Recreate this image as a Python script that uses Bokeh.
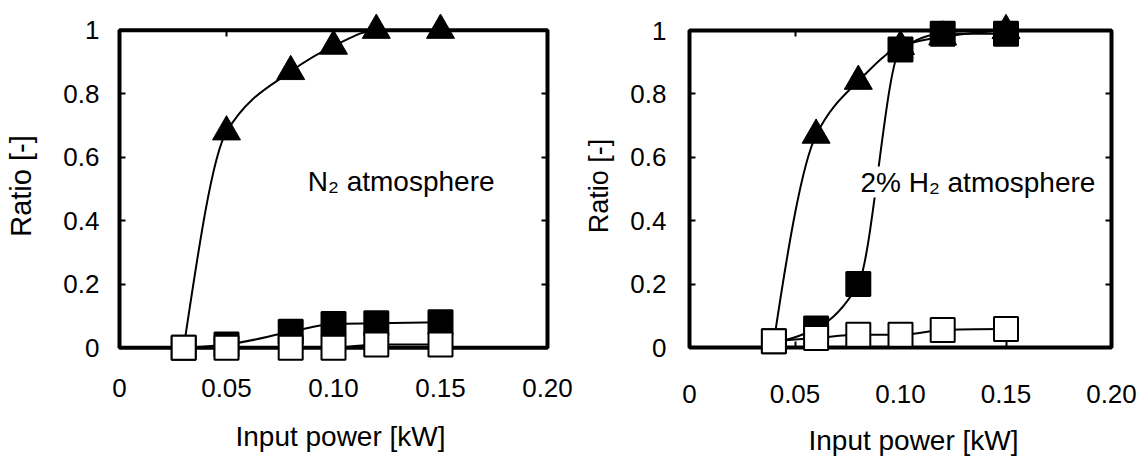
import numpy as np
from bokeh.plotting import figure
from bokeh.models import Range1d, FixedTicker, LinearAxis, Label, ColumnDataSource
from bokeh.layouts import row
from bokeh.embed import file_html
from bokeh.resources import INLINE

# ---------------- data ----------------
x_ticks = [0, 0.05, 0.10, 0.15, 0.20]
x_tick_labels = ["0", "0.05", "0.10", "0.15", "0.20"]
y_ticks = [0, 0.2, 0.4, 0.6, 0.8, 1.0]
y_tick_labels = ["0", "0.2", "0.4", "0.6", "0.8", "1"]

n2_power = [0.03, 0.05, 0.08, 0.10, 0.12, 0.15]
n2_triangle = [0.0, 0.68, 0.87, 0.95, 1.0, 1.0]
n2_black = [0.0, 0.01, 0.05, 0.075, 0.077, 0.08]
n2_white = [0.0, 0.0, 0.0, 0.0, 0.01, 0.01]

h2_power = [0.04, 0.06, 0.08, 0.10, 0.12, 0.15]
h2_triangle = [0.02, 0.67, 0.84, 0.95, 0.98, 1.0]
h2_black = [0.02, 0.06, 0.20, 0.94, 0.99, 0.99]
h2_white = [0.02, 0.03, 0.04, 0.04, 0.055, 0.058]

x_title = "Input power [kW]"
y_title = "Ratio [-]"
FONT = "Liberation Sans"


def smooth_segments(x, y):
    """Monotone cubic (PCHIP) segments expressed as Bezier control points."""
    x = np.asarray(x, float)
    y = np.asarray(y, float)
    h = np.diff(x)
    s = np.diff(y) / h
    n = len(x)
    d = np.zeros(n)
    for k in range(1, n - 1):
        if s[k - 1] * s[k] <= 0:
            d[k] = 0.0
        else:
            w1 = 2 * h[k] + h[k - 1]
            w2 = h[k] + 2 * h[k - 1]
            d[k] = (w1 + w2) / (w1 / s[k - 1] + w2 / s[k])

    def end(h0, h1, s0, s1):
        dd = ((2 * h0 + h1) * s0 - h0 * s1) / (h0 + h1)
        if np.sign(dd) != np.sign(s0):
            dd = 0.0
        elif np.sign(s0) != np.sign(s1) and abs(dd) > 3 * abs(s0):
            dd = 3 * s0
        return dd

    d[0] = end(h[0], h[1], s[0], s[1])
    d[-1] = end(h[-1], h[-2], s[-1], s[-2])
    return ColumnDataSource(dict(
        x0=x[:-1], y0=y[:-1], x1=x[1:], y1=y[1:],
        cx0=x[:-1] + h / 3, cy0=y[:-1] + d[:-1] * h / 3,
        cx1=x[1:] - h / 3, cy1=y[1:] - d[1:] * h / 3,
    ))


def make_fig(width, box_w, box_h, pads, borders, ytitle_size,
             ylab_standoff, ytitle_standoff, xlab_standoff, xtitle_standoff):
    # the data box (0..0.2, 0..1) is drawn as a glyph; the frame is padded (pixels)
    # so that markers sitting on the box edges are not clipped
    x0, x1 = x_ticks[0], x_ticks[-1]
    y0, y1 = y_ticks[0], y_ticks[-1]
    pl, pr, pt, pb = pads
    bl, br, bt, bb = borders
    sx = (x1 - x0) / box_w
    sy = (y1 - y0) / box_h
    p = figure(width=width, height=459,
               x_range=Range1d(x0 - pl * sx, x1 + pr * sx),
               y_range=Range1d(y0 - pb * sy, y1 + pt * sy),
               output_backend="svg", toolbar_location=None,
               min_border_left=bl, min_border_right=br,
               min_border_top=bt, min_border_bottom=bb)
    p.grid.visible = False
    p.outline_line_color = None
    p.background_fill_color = "white"
    p.border_fill_color = "white"

    for ax in p.xaxis:
        ax.ticker = FixedTicker(ticks=x_ticks)
        ax.major_label_overrides = {t: l for t, l in zip(x_ticks, x_tick_labels)}
        ax.major_label_standoff = xlab_standoff
        ax.axis_label = x_title
        ax.axis_label_text_font_size = "28px"
        ax.axis_label_standoff = xtitle_standoff
    for ax in p.yaxis:
        ax.ticker = FixedTicker(ticks=y_ticks)
        ax.major_label_overrides = {t: l for t, l in zip(y_ticks, y_tick_labels)}
        ax.axis_label = y_title
        ax.axis_label_text_font_size = ytitle_size
        ax.axis_label_standoff = ytitle_standoff
        ax.major_label_standoff = ylab_standoff
    for ax in list(p.xaxis) + list(p.yaxis):
        ax.axis_label_text_font = FONT
        ax.axis_label_text_font_style = "normal"
        ax.axis_label_text_color = "black"
        ax.axis_line_color = None
        ax.major_tick_line_color = None
        ax.minor_tick_line_color = None
        ax.major_tick_in = 0
        ax.major_tick_out = 0
        ax.major_label_text_font = FONT
        ax.major_label_text_font_size = "26px"
        ax.major_label_text_color = "black"

    # inward ticks on all four sides of the data box (drawn beneath the marks)
    for place, ticks, loc in (("below", x_ticks, y0), ("above", x_ticks, y1),
                              ("left", y_ticks, x0), ("right", y_ticks, x1)):
        ax = LinearAxis(ticker=FixedTicker(ticks=ticks), axis_line_color=None,
                        fixed_location=loc, level="underlay",
                        major_tick_in=6, major_tick_out=0, major_tick_line_width=2,
                        major_tick_line_color="black",
                        minor_tick_line_color=None, major_label_text_font_size="0px",
                        major_label_standoff=0)
        ax.major_label_overrides = {t: "" for t in ticks}
        p.add_layout(ax, place)

    p.quad(left=[x0], right=[x1], bottom=[y0], top=[y1], fill_color=None,
           line_color="black", line_width=4)
    return p


def draw_series(p, power, tri, black, white):
    p.bezier(x0="x0", y0="y0", x1="x1", y1="y1", cx0="cx0", cy0="cy0", cx1="cx1", cy1="cy1",
             source=smooth_segments(power, tri), line_color="black", line_width=2)
    p.scatter(power[1:], tri[1:], marker="triangle", size=28, fill_color="black",
              line_color="black", line_width=1)
    p.bezier(x0="x0", y0="y0", x1="x1", y1="y1", cx0="cx0", cy0="cy0", cx1="cx1", cy1="cy1",
             source=smooth_segments(power, black), line_color="black", line_width=2)
    p.scatter(power, black, marker="square", size=24, fill_color="black",
              line_color="black", line_width=2)
    p.bezier(x0="x0", y0="y0", x1="x1", y1="y1", cx0="cx0", cy0="cy0", cx1="cx1", cy1="cy1",
             source=smooth_segments(power, white), line_color="black", line_width=2)
    p.scatter(power, white, marker="square", size=24, fill_color="white",
              line_color="black", line_width=2)


def text(p, x, y, s, size, **kw):
    p.add_layout(Label(x=x, y=y, text=s, text_font=FONT, text_font_size=size,
                       text_color="black", **kw))


p1 = make_fig(575, 428, 322, (4, 18, 20, 14), (115, 10, 9, 94), "29px", 16, 23, 17, 21)
draw_series(p1, n2_power, n2_triangle, n2_black, n2_white)
text(p1, 0.088, 0.524, "N\u2082 atmosphere", "28px", text_baseline="alphabetic")

p2 = make_fig(566, 422, 317, (4, 30, 20, 14), (110, 0, 10, 98), "27px", 19, 13, 23, 19)
draw_series(p2, h2_power, h2_triangle, h2_black, h2_white)
text(p2, 0.081, 0.522, "2% H\u2082 atmosphere", "28px", text_baseline="alphabetic",
     background_fill_color="white")

layout = row(p1, p2)
open("out.html", "w").write(file_html(layout, INLINE))
